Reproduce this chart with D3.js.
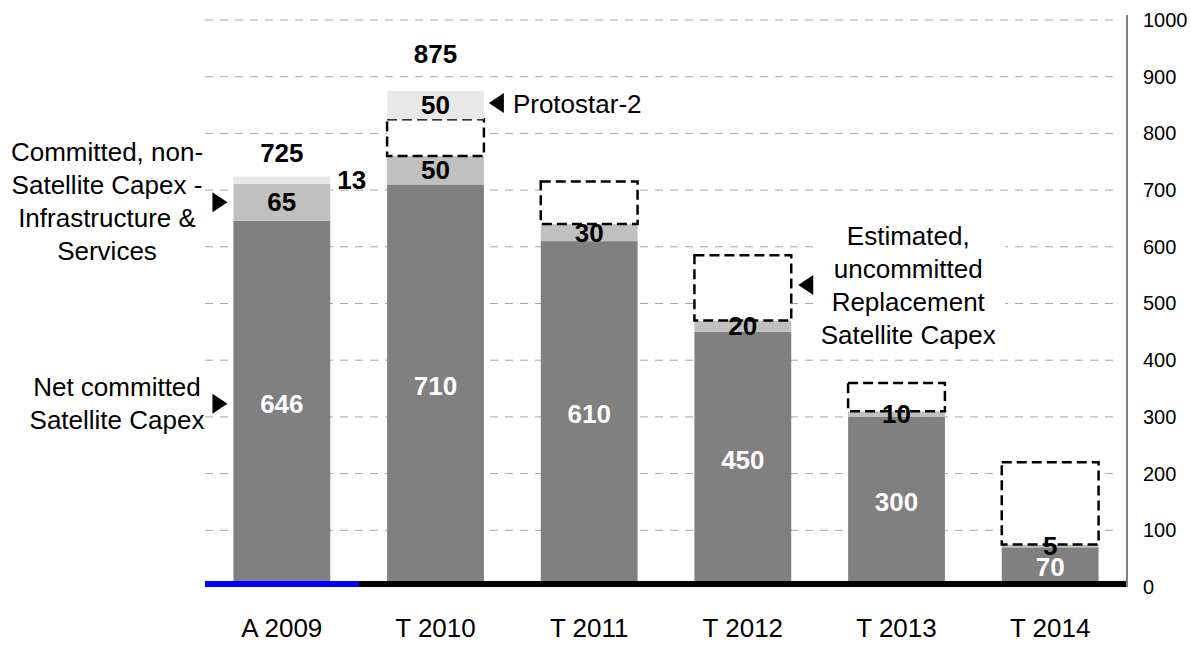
<!DOCTYPE html>
<html>
<head>
<meta charset="utf-8">
<script src="https://cdn.jsdelivr.net/npm/d3@7"></script>
<style>
  body { margin: 0; background: #fff; }
  svg { display: block; font-family: "Liberation Sans", Arial, sans-serif; }
</style>
</head>
<body>
<svg width="1195" height="645"></svg>
<script>
// data
const categories = ["A 2009", "T 2010", "T 2011", "T 2012", "T 2013", "T 2014"];
const netSatellite = [646, 710, 610, 450, 300, 70];
const nonSatellite = [65, 50, 30, 20, 10, 5];
const uncommitted = [0, 65, 75, 115, 50, 145];
const protostar = [13, 50, 0, 0, 0, 0];
const totals = [725, 875, null, null, null, null];
const yTicks = [0, 100, 200, 300, 400, 500, 600, 700, 800, 900, 1000];

// chart box
const plotL = 205, plotR = 1127, plotT = 20, plotB = 587;

const svg = d3.select("svg");

const x = d3.scaleBand()
  .domain(categories)
  .range([plotL, plotR])
  .paddingInner(0.37)
  .paddingOuter(0.185);

const y = d3.scaleLinear()
  .domain([0, 1000])
  .range([plotB, plotT]);

// table for the stack
const keys = ["net", "nonSat", "uncommitted", "other"];
const rows = categories.map((c, i) => ({
  cat: c, net: netSatellite[i], nonSat: nonSatellite[i],
  uncommitted: uncommitted[i], other: protostar[i]
}));
const series = d3.stack().keys(keys)(rows);

// gridlines
svg.append("g")
  .selectAll("line")
  .data(yTicks.filter(d => d > 0))
  .join("line")
    .attr("x1", plotL)
    .attr("x2", plotR - 9)
    .attr("y1", d => y(d))
    .attr("y2", d => y(d))
    .attr("stroke", "#a6a6a6")
    .attr("stroke-width", 1)
    .attr("stroke-dasharray", "8,7");

// bars
const fills = { net: "#808080", nonSat: "#c0c0c0", other: "#e8e8e8", uncommitted: "#fff" };

series.forEach(s => {
  const key = s.key;
  svg.append("g")
    .selectAll("rect")
    .data(s.filter(d => d[1] - d[0] > 0))
    .join("rect")
      .attr("x", d => x(d.data.cat))
      .attr("y", d => y(d[1]))
      .attr("width", x.bandwidth())
      .attr("height", d => y(d[0]) - y(d[1]))
      .attr("fill", fills[key])
      .attr("stroke", key == "uncommitted" ? "#000" : "none")
      .attr("stroke-width", 2.5)
      .attr("stroke-dasharray", key == "uncommitted" ? "10,5" : null);
});

// segment labels
const labels = svg.append("g")
  .attr("font-size", "26px")
  .attr("font-weight", "bold");

series.forEach(s => {
  if (s.key == "uncommitted") return;
  s.forEach(d => {
    const v = d[1] - d[0];
    if (v <= 0) return;
    const thin = s.key == "other" && (y(d[0]) - y(d[1])) < 20;
    labels.append("text")
      .attr("x", thin ? x(d.data.cat) + x.bandwidth() + 7 : x(d.data.cat) + x.bandwidth() / 2)
      .attr("y", y((d[0] + d[1]) / 2))
      .attr("dy", "0.35em")
      .attr("text-anchor", thin ? "start" : "middle")
      .attr("fill", s.key == "net" ? "#fff" : "#000")
      .text(v);
  });
});

// totals above the first two bars
const totalDy = [-14, -28];
totals.forEach((t, i) => {
  if (t == null) return;
  labels.append("text")
    .attr("x", x(categories[i]) + x.bandwidth() / 2)
    .attr("y", y(t) + totalDy[i])
    .attr("text-anchor", "middle")
    .attr("fill", "#000")
    .text(t);
});

// baseline: blue under the actual year, black under the targets
svg.append("rect")
  .attr("x", plotL).attr("y", plotB - 6)
  .attr("width", plotR - plotL).attr("height", 6)
  .attr("fill", "#000");
svg.append("rect")
  .attr("x", plotL).attr("y", plotB - 6)
  .attr("width", x.step()).attr("height", 6)
  .attr("fill", "#0000ff");

// right axis
svg.append("line")
  .attr("x1", plotR).attr("x2", plotR)
  .attr("y1", 15).attr("y2", plotB)
  .attr("stroke", "#808080")
  .attr("stroke-width", 2);

const yAxis = svg.append("g")
  .attr("transform", "translate(" + plotR + ",0)")
  .call(d3.axisRight(y).tickValues(yTicks).tickSize(0).tickPadding(16).tickFormat(d3.format("d")));
yAxis.select(".domain").remove();
yAxis.selectAll("text")
  .attr("font-family", "Liberation Sans, Arial, sans-serif")
  .attr("font-size", "20px")
  .attr("fill", "#000");

// category labels
const xAxis = svg.append("g")
  .attr("transform", "translate(0," + plotB + ")")
  .call(d3.axisBottom(x).tickSize(0).tickPadding(32));
xAxis.select(".domain").remove();
xAxis.selectAll("text")
  .attr("font-family", "Liberation Sans, Arial, sans-serif")
  .attr("font-size", "26px")
  .attr("fill", "#000");

// annotations
function triangle(tipX, cy, dir) {
  const w = 15, h = 10;
  const baseX = tipX - dir * w;
  svg.append("path")
    .attr("d", "M" + tipX + "," + cy + "L" + baseX + "," + (cy - h) + "L" + baseX + "," + (cy + h) + "Z")
    .attr("fill", "#000");
}

function block(lines, cx, firstY, anchor) {
  const t = svg.append("text")
    .attr("font-size", "26px")
    .attr("fill", "#000")
    .attr("text-anchor", anchor || "middle");
  lines.forEach((l, i) => {
    t.append("tspan").attr("x", cx).attr("y", firstY + i * 33).text(l);
  });
}

const bar1 = x(categories[0]);
const yNonSat = y(netSatellite[0] + nonSatellite[0] / 2);
triangle(bar1 - 6, yNonSat, 1);
block(["Committed, non-", "Satellite Capex -", "Infrastructure &", "Services"], 107, yNonSat - 41);

const yNet = y(netSatellite[0] / 2);
triangle(bar1 - 6, yNet, 1);
block(["Net committed", "Satellite Capex"], 117, yNet - 8);

const bar2r = x(categories[1]) + x.bandwidth();
const yProto = y(netSatellite[1] + nonSatellite[1] + uncommitted[1] + protostar[1] / 2) - 2;
triangle(bar2r + 5, yProto, -1);
block(["Protostar-2"], bar2r + 29, yProto + 10, "start");

const bar4r = x(categories[3]) + x.bandwidth();
const yUnc = y(netSatellite[3] + nonSatellite[3] + uncommitted[3] / 2) - 3;
svg.append("rect")
  .attr("x", bar4r + 22).attr("y", yUnc - 63)
  .attr("width", 192).attr("height", 130)
  .attr("fill", "#fff");
triangle(bar4r + 7, yUnc, -1);
block(["Estimated,", "uncommitted", "Replacement", "Satellite Capex"], bar4r + 117, yUnc - 40);
</script>
</body>
</html>
